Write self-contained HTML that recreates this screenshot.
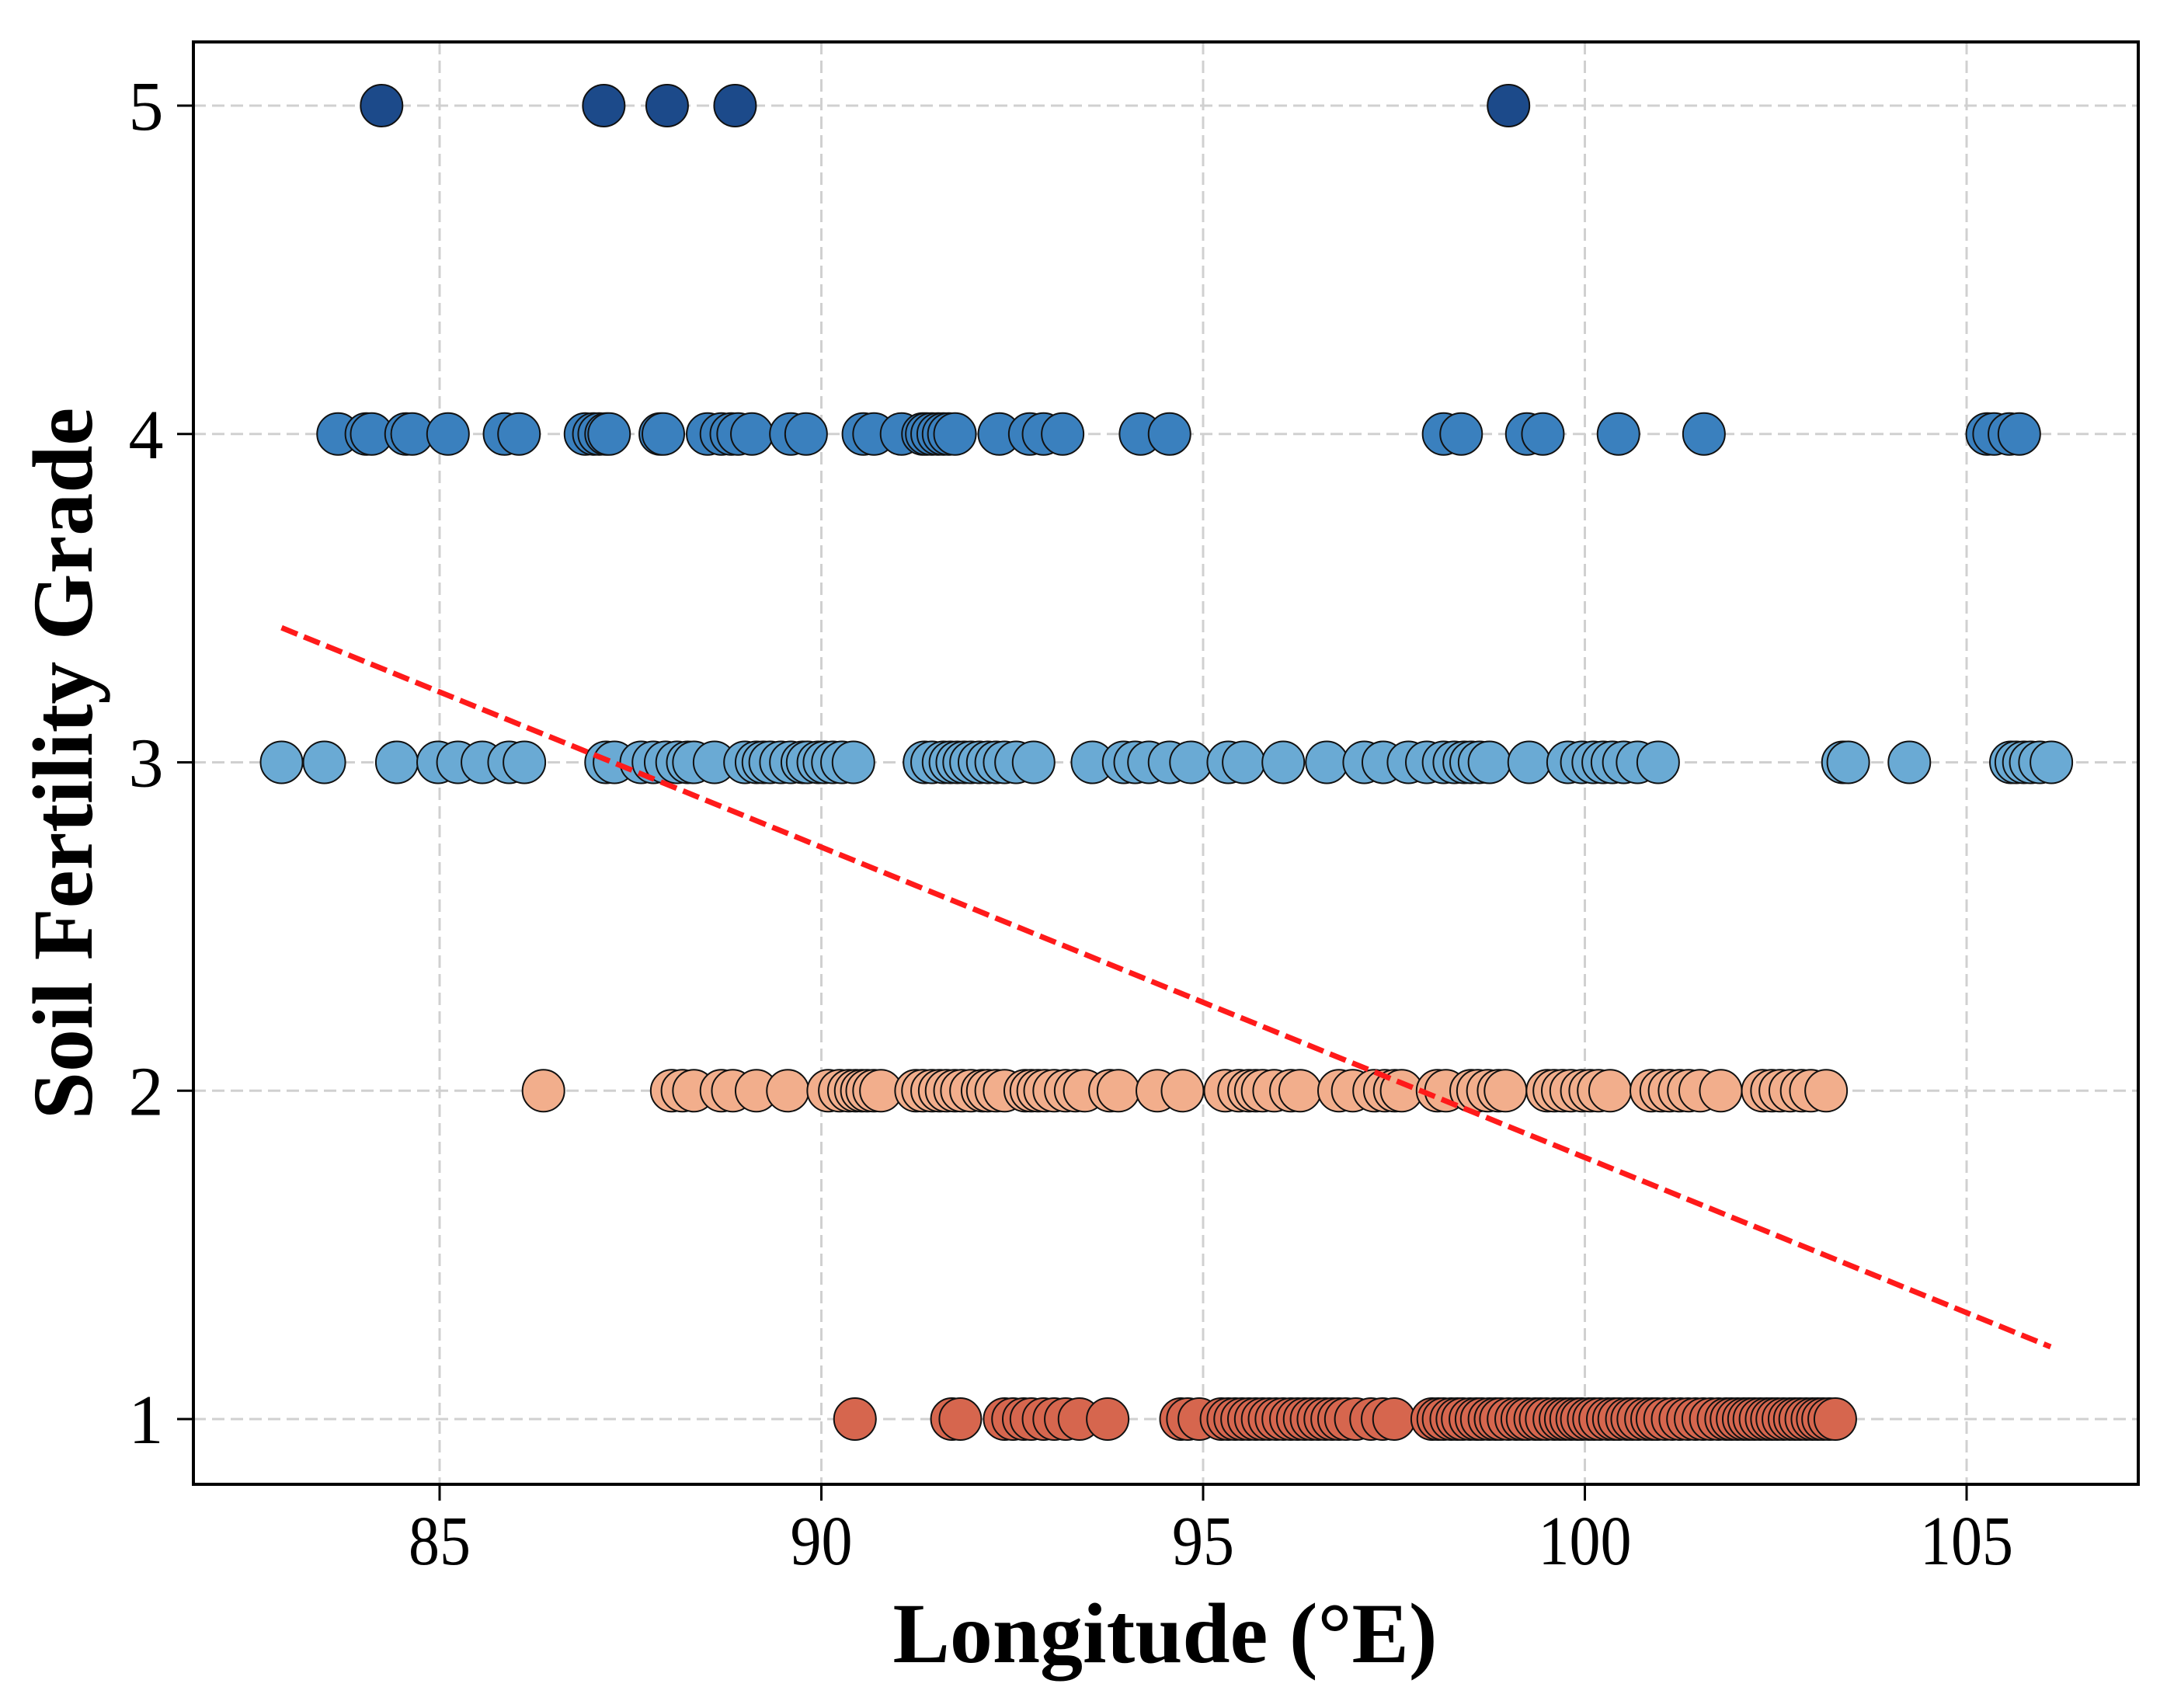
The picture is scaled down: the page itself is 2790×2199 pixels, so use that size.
<!DOCTYPE html>
<html><head><meta charset="utf-8"><style>
html,body{margin:0;padding:0;background:#fff;}
svg{display:block;font-family:"Liberation Serif",serif;}
</style></head><body>
<svg id="chart" width="2790" height="2199" viewBox="0 0 2790 2199" xmlns="http://www.w3.org/2000/svg">
<rect x="0" y="0" width="2790" height="2199" fill="#fff"/>
<g id="grid"></g>
<g id="points"></g>
<g id="trend"></g>
<rect x="249" y="54" width="2504" height="1857" fill="none" stroke="#000" stroke-width="4"/>
<g id="axes"></g>
<text x="1500" y="2140" font-size="110" font-weight="bold" text-anchor="middle">Longitude (°E)</text>
<text transform="translate(118,983) rotate(-90)" font-size="110" font-weight="bold" text-anchor="middle">Soil Fertility Grade</text>
</svg>
<script>
const xTicks = [85, 90, 95, 100, 105];
const yTicks = [1, 2, 3, 4, 5];
const grades = [1, 2, 3, 4, 5];
const colors = ["#d6664e", "#f2ae8c", "#6aaad4", "#3a80be", "#1c4a8a"];
const grade5 = [84.24, 87.15, 87.98, 88.87, 99.0];
const grade4 = [83.67,84.04,84.11,84.56,84.64,85.11,85.85,86.04,86.91,87.02,87.09,87.18,87.22,87.89,87.93,88.51,88.69,88.82,88.91,89.09,89.6,89.8,90.55,90.69,91.05,91.33,91.38,91.45,91.53,91.6,91.67,91.75,92.33,92.73,92.91,93.16,94.18,94.56,98.15,98.38,99.24,99.45,100.44,101.56,105.27,105.36,105.56,105.69];
const grade3 = [82.93,83.49,84.44,84.98,85.24,85.56,85.91,86.11,87.18,87.29,87.64,87.8,87.96,88.11,88.25,88.33,88.6,89,89.15,89.24,89.33,89.47,89.6,89.75,89.82,89.96,90.04,90.15,90.27,90.42,91.35,91.45,91.6,91.69,91.78,91.87,91.96,92.07,92.18,92.29,92.4,92.55,92.78,93.55,93.96,94.11,94.29,94.56,94.84,95.33,95.53,96.05,96.62,97.11,97.36,97.69,97.93,98.15,98.29,98.42,98.51,98.62,98.75,99.27,99.78,99.96,100.11,100.24,100.36,100.51,100.69,100.96,103.38,103.45,104.25,105.58,105.65,105.75,105.84,105.96,106.11];
const grade2 = [86.36,88.04,88.18,88.33,88.69,88.84,89.15,89.56,90.09,90.24,90.36,90.45,90.53,90.6,90.69,90.78,91.24,91.33,91.45,91.55,91.64,91.75,91.84,91.96,92.11,92.18,92.29,92.4,92.67,92.75,92.84,92.93,93.05,93.2,93.33,93.45,93.78,93.89,94.4,94.73,95.29,95.47,95.6,95.69,95.78,95.93,96.15,96.27,96.78,96.96,97.24,97.38,97.51,97.6,98.07,98.18,98.51,98.6,98.73,98.87,98.96,99.51,99.6,99.71,99.82,99.96,100.07,100.18,100.33,100.87,101,101.11,101.24,101.36,101.51,101.78,102.33,102.45,102.56,102.69,102.84,102.96,103.16];
const grade1 = [90.44,91.71,91.82,92.4,92.51,92.65,92.75,92.91,93.05,93.2,93.38,93.75,94.71,94.8,94.95,95.24,95.33,95.42,95.51,95.6,95.69,95.78,95.87,95.96,96.05,96.15,96.24,96.33,96.42,96.51,96.6,96.69,96.78,96.87,97.0,97.2,97.35,97.5,98.0,98.08,98.15,98.25,98.33,98.4,98.5,98.58,98.65,98.75,98.83,98.9,99.0,99.1,99.18,99.25,99.35,99.42,99.5,99.6,99.68,99.75,99.82,99.9,99.96,100.05,100.12,100.2,100.3,100.38,100.45,100.55,100.62,100.7,100.8,100.88,100.95,101.05,101.15,101.25,101.35,101.45,101.55,101.65,101.75,101.85,101.92,102.0,102.08,102.15,102.22,102.3,102.38,102.45,102.52,102.6,102.68,102.75,102.82,102.9,102.98,103.05,103.12,103.2,103.28];
const trendX = [82.93, 106.1];
const trendY = [3.41, 1.22];

const NS = "http://www.w3.org/2000/svg";
function xs(v){ return 566 + (v - 85) * 98.3; }
function ys(v){ return 1827 - (v - 1) * 422.75; }
function mk(tag, attrs, parent){
  const e = document.createElementNS(NS, tag);
  for (const k in attrs) e.setAttribute(k, attrs[k]);
  parent.appendChild(e);
  return e;
}
const grid = document.getElementById('grid');
const axes = document.getElementById('axes');
xTicks.forEach(t => {
  const gl = mk('line', {x1: xs(t), x2: xs(t), y1: 54, y2: 1911, stroke: '#d0d0d0', 'stroke-width': 3, 'stroke-dasharray': '16,8'}, grid);
  
  
  const tk = mk('line', {x1: xs(t), x2: xs(t), y1: 1911, y2: 1932, stroke: '#000', 'stroke-width': 3}, axes);
  
  
  const tx = mk('text', {x: xs(t), y: 2014, 'font-size': 90, 'text-anchor': 'middle', textLength: String(t).length * 40, lengthAdjust: 'spacingAndGlyphs'}, axes);
  tx.textContent = t;
  
  
});
yTicks.forEach(t => {
  const gl = mk('line', {x1: 249, x2: 2753, y1: ys(t), y2: ys(t), stroke: '#d0d0d0', 'stroke-width': 3, 'stroke-dasharray': '16,8'}, grid);
  
  
  const tk = mk('line', {x1: 228, x2: 249, y1: ys(t), y2: ys(t), stroke: '#000', 'stroke-width': 3}, axes);
  
  
  const tx = mk('text', {x: 188, y: ys(t) + 31, 'font-size': 90, 'text-anchor': 'middle'}, axes);
  tx.textContent = t;
  
  
});
const pts = document.getElementById('points');
const series = [grade1, grade2, grade3, grade4, grade5];
series.forEach((arr, i) => {
  arr.forEach(v => {
    const c = mk('circle', {cx: xs(v), cy: ys(grades[i]), r: 27, fill: colors[i], stroke: '#111', 'stroke-width': 2}, pts);
    
    
  });
});
const tl = mk('line', {x1: xs(trendX[0]), y1: ys(trendY[0]), x2: xs(trendX[1]), y2: ys(trendY[1]), stroke: '#ff1a1a', 'stroke-width': 7, 'stroke-dasharray': '22,9'}, document.getElementById('trend'));


</script>
</body></html>
